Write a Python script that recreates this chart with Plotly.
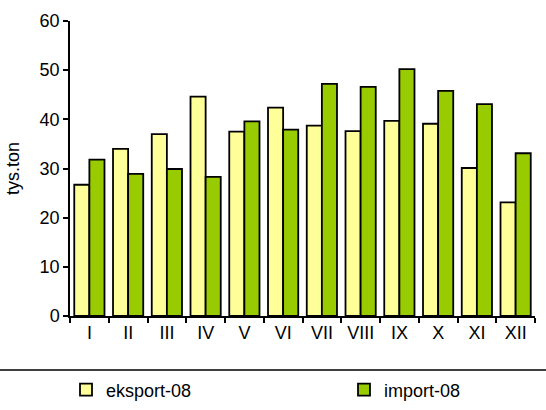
import plotly.graph_objects as go

months = ["I", "II", "III", "IV", "V", "VI", "VII", "VIII", "IX", "X", "XI", "XII"]
eksport = [26.7, 34.0, 37.0, 44.6, 37.5, 42.4, 38.7, 37.6, 39.7, 39.1, 30.1, 23.1]
importv = [31.8, 28.9, 29.9, 28.3, 39.6, 37.9, 47.2, 46.6, 50.2, 45.8, 43.1, 33.1]
y_ticks = [0, 10, 20, 30, 40, 50, 60]

FONT = "Liberation Sans, Arial, sans-serif"
FS = 18

fig = go.Figure()
fig.add_trace(go.Bar(x=months, y=eksport, name="eksport-08", legend="legend",
                     marker=dict(color="#FFFF99", line=dict(color="black", width=1.8))))
fig.add_trace(go.Bar(x=months, y=importv, name="import-08", legend="legend2",
                     marker=dict(color="#99CC00", line=dict(color="black", width=1.8))))

leg_common = dict(orientation="h", xref="container", yref="container",
                  xanchor="left", yanchor="middle", bgcolor="rgba(0,0,0,0)",
                  font=dict(size=FS, family=FONT), itemwidth=30)

fig.update_layout(
    width=546, height=410,
    margin=dict(l=70, r=11, t=21, b=94, autoexpand=False),
    paper_bgcolor="white", plot_bgcolor="white",
    font=dict(family=FONT, size=FS, color="black"),
    barmode="group", bargap=0.22, bargroupgap=0,
    showlegend=True,
    legend=dict(x=66/546, y=20/410, **leg_common),
    legend2=dict(x=344/546, y=20/410, **leg_common),
)
fig.update_xaxes(type="category", showline=True, linecolor="black", linewidth=1.5,
                 ticks="outside", tickson="boundaries", ticklen=5, tickwidth=1.5,
                 tickcolor="black", showgrid=False, tickfont=dict(size=FS),
                 automargin=False)
fig.update_yaxes(range=[0, 60], tickvals=y_ticks, showline=True, linecolor="black",
                 linewidth=1.5, ticks="outside", ticklen=5, tickwidth=1.5,
                 tickcolor="black", showgrid=False, zeroline=False,
                 title=dict(text="tys.ton", font=dict(size=FS), standoff=15),
                 tickfont=dict(size=FS), automargin=True)
fig.add_shape(type="line", xref="paper", yref="paper",
              x0=-70/464, x1=1+11/464, y0=-54/295, y1=-54/295,
              line=dict(color="black", width=1.5))

fig.write_html("out.html", config={"displayModeBar": False},
               post_script="document.body.style.margin='0';document.body.style.overflow='hidden';")
